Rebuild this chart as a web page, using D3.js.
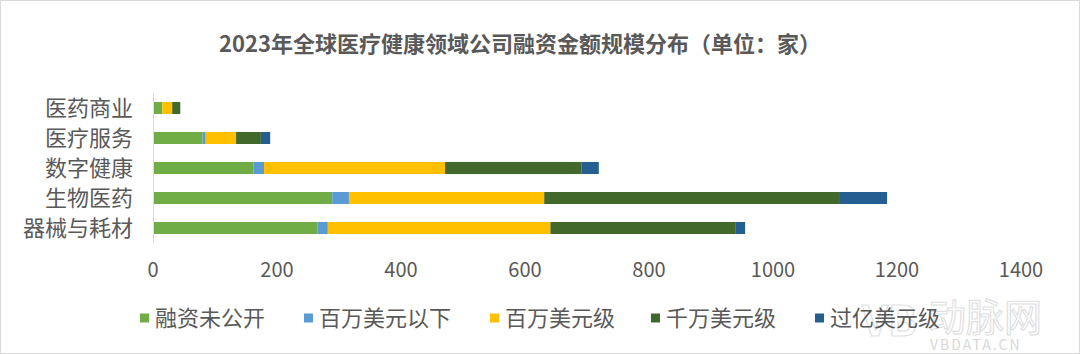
<!DOCTYPE html>
<html>
<head>
<meta charset="utf-8">
<script src="https://cdn.jsdelivr.net/npm/d3@7"></script>
<style>
  body { margin: 0; background: #fff; }
  svg { display: block; font-family: 'Noto Sans CJK SC', 'Noto Sans', sans-serif; }
</style>
</head>
<body>
<svg width="1080" height="354"></svg>
<script>
const categories = ['医药商业', '医疗服务', '数字健康', '生物医药', '器械与耗材']
const seriesNames = ['融资未公开', '百万美元以下', '百万美元级', '千万美元级', '过亿美元级']
const undisclosed = [15, 80, 162, 289, 265]
const underMillion = [0, 5, 17, 27, 17]
const millions = [16, 49, 292, 315, 359]
const tenMillions = [13, 40, 220, 477, 299]
const hundredMillions = [0, 15, 28, 76, 15]
const xTicks = [0, 200, 400, 600, 800, 1000, 1200, 1400]
const colors = ['#70ad47', '#5b9bd5', '#ffc000', '#43682b', '#255e91']

const svg = d3.select('svg')
const margin = { top: 93, left: 153, right: 59 }
const plotW = 1080 - margin.left - margin.right

svg.append('rect')
  .attr('x', 0.5).attr('y', 0.5)
  .attr('width', 1079).attr('height', 353)
  .attr('fill', 'none')
  .attr('stroke', '#d9d9d9')

// watermark, drawn first so it sits behind
const wm = svg.append('g').attr('opacity', 0.55)
wm.append('text')
  .attr('x', 862).attr('y', 336)
  .attr('font-size', 42).attr('font-weight', 'bold')
  .attr('fill', 'none').attr('stroke', '#c8c8c8').attr('stroke-width', 1.2)
  .text('VB')
wm.append('text')
  .attr('x', 928).attr('y', 331)
  .attr('font-size', 38)
  .attr('fill', 'none').attr('stroke', '#c8c8c8').attr('stroke-width', 1.2)
  .text('动脉网')
wm.append('text')
  .attr('x', 930).attr('y', 350)
  .attr('font-size', 14)
  .attr('fill', '#b8b8b8')
  .attr('letter-spacing', 2)
  .text('VBDATA.CN')

svg.append('text')
  .attr('x', 520)
  .attr('y', 52)
  .attr('text-anchor', 'middle')
  .attr('font-size', 22)
  .attr('font-weight', 'bold')
  .attr('fill', '#595959')
  .text('2023年全球医疗健康领域公司融资金额规模分布（单位：家）')

const rows = categories.map(function (c, i) {
  return {
    cat: c,
    [seriesNames[0]]: undisclosed[i],
    [seriesNames[1]]: underMillion[i],
    [seriesNames[2]]: millions[i],
    [seriesNames[3]]: tenMillions[i],
    [seriesNames[4]]: hundredMillions[i]
  }
})

const x = d3.scaleLinear().domain([0, 1400]).range([0, plotW])
const y = d3.scaleBand().domain(categories).range([0, 150]).paddingInner(0.6).paddingOuter(0.3)

const stack = d3.stack().keys(seriesNames)(rows)

const g = svg.append('g').attr('transform', 'translate(' + margin.left + ',' + margin.top + ')')

g.selectAll('g.series')
  .data(stack)
  .enter()
  .append('g')
  .attr('fill', function (d, i) { return colors[i] })
  .selectAll('rect')
  .data(function (d) { return d })
  .enter()
  .append('rect')
  .attr('x', function (d) { return x(d[0]) })
  .attr('width', function (d) { return x(d[1]) - x(d[0]) })
  .attr('y', function (d) { return y(d.data.cat) })
  .attr('height', y.bandwidth())

// vertical axis line
g.append('line')
  .attr('x1', 0.5).attr('x2', 0.5)
  .attr('y1', 0).attr('y2', 150)
  .attr('stroke', '#d9d9d9')

g.selectAll('text.cat')
  .data(categories)
  .enter()
  .append('text')
  .attr('x', -20)
  .attr('y', function (d) { return y(d) + y.bandwidth() / 2 })
  .attr('dy', '0.35em')
  .attr('text-anchor', 'end')
  .attr('font-size', 22)
  .attr('fill', '#595959')
  .text(function (d) { return d })

g.selectAll('text.tick')
  .data(xTicks)
  .enter()
  .append('text')
  .attr('x', function (d) { return x(d) })
  .attr('y', 177)
  .attr('dy', '0.35em')
  .attr('text-anchor', 'middle')
  .attr('font-size', 20)
  .attr('fill', '#595959')
  .text(function (d) { return d })

// legend
const legendX = [140, 304, 490, 651, 815]
const legend = svg.selectAll('g.legend')
  .data(seriesNames)
  .enter()
  .append('g')
  .attr('transform', function (d, i) { return 'translate(' + legendX[i] + ',318)' })

legend.append('rect')
  .attr('x', 0).attr('y', -4.5)
  .attr('width', 9).attr('height', 9)
  .attr('fill', function (d, i) { return colors[i] })

legend.append('text')
  .attr('x', 15)
  .attr('dy', '0.35em')
  .attr('font-size', 22)
  .attr('fill', '#595959')
  .text(function (d) { return d })
</script>
</body>
</html>
